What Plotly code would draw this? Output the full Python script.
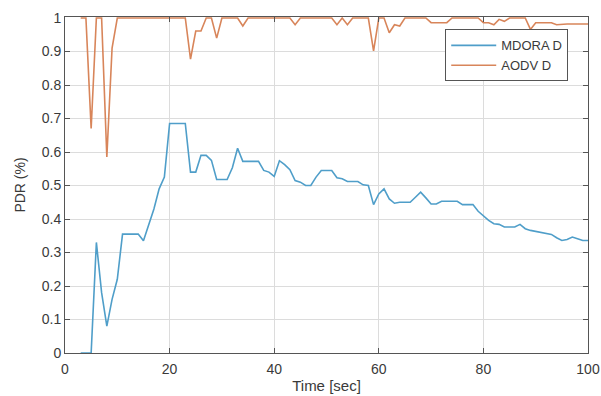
import plotly.graph_objects as go

time = list(range(3, 101))

mdora = [0, 0, 0, 0.33, 0.18, 0.08, 0.16, 0.22, 0.355, 0.355,
         0.355, 0.355, 0.335, 0.38, 0.43, 0.49, 0.525, 0.685, 0.685, 0.685,
         0.685, 0.54, 0.54, 0.59, 0.59, 0.575, 0.518, 0.518, 0.518, 0.553,
         0.611, 0.572, 0.572, 0.572, 0.572, 0.545, 0.54, 0.527, 0.574, 0.562,
         0.547, 0.515, 0.51, 0.5, 0.5, 0.525, 0.545, 0.545, 0.545, 0.523,
         0.52, 0.512, 0.512, 0.512, 0.502, 0.5, 0.443, 0.475, 0.49, 0.46,
         0.447, 0.45, 0.45, 0.45, 0.465, 0.48, 0.463, 0.445, 0.445, 0.453,
         0.453, 0.453, 0.453, 0.443, 0.443, 0.443, 0.423, 0.41, 0.396, 0.386,
         0.384, 0.376, 0.376, 0.376, 0.384, 0.371, 0.366, 0.363, 0.361, 0.356,
         0.354, 0.344, 0.336, 0.339, 0.346, 0.341, 0.336, 0.336]

aodv = [1, 1, 0.67, 1, 1, 0.585, 0.91, 1, 1, 1,
        1, 1, 1, 1, 1, 1, 1, 1, 1, 1,
        1, 0.877, 0.961, 0.961, 1, 1, 0.94, 1, 1, 1,
        1, 0.976, 1, 1, 1, 1, 1, 1, 1, 1,
        1, 0.98, 1, 1, 1, 1, 1, 1, 1, 0.98,
        1, 0.98, 1, 1, 1, 1, 0.902, 1, 1, 0.956,
        0.98, 0.976, 1, 1, 1, 1, 1, 0.986, 0.986, 0.986,
        0.986, 1, 1, 1, 1, 1, 1, 0.986, 0.986, 0.98,
        0.996, 0.99, 1, 1, 1, 1, 0.966, 0.986, 0.986, 0.986,
        0.986, 0.98, 0.982, 0.982, 0.982, 0.982, 0.982, 0.982]

x_ticks = [0, 20, 40, 60, 80, 100]
y_ticks = [0, 0.1, 0.2, 0.3, 0.4, 0.5, 0.6, 0.7, 0.8, 0.9, 1]
y_tick_labels = ["0", "0.1", "0.2", "0.3", "0.4", "0.5", "0.6", "0.7", "0.8", "0.9", "1"]

fig = go.Figure()
fig.add_trace(go.Scatter(x=time, y=mdora, mode="lines", name="MDORA D",
                         line=dict(color="#4f9ec9", width=1.6)))
fig.add_trace(go.Scatter(x=time, y=aodv, mode="lines", name="AODV D",
                         line=dict(color="#d8855a", width=1.6)))

FAM = "Liberation Sans, Arial, sans-serif"
font = dict(family=FAM, size=14, color="#3a3a3a")
axis_common = dict(showline=True, linecolor="#555555", linewidth=1, mirror="ticks",
                   ticks="inside", ticklen=5, tickcolor="#555555",
                   showgrid=True, gridcolor="#dcdcdc", gridwidth=1, zeroline=False,
                   tickfont=font, ticklabeloverflow="allow", automargin=False)

fig.update_layout(
    width=601, height=396,
    margin=dict(l=65, r=13, t=17, b=43),
    paper_bgcolor="white", plot_bgcolor="white",
    font=font,
    showlegend=True,
    legend=dict(x=0.727, y=0.963, xanchor="left", yanchor="top",
                bgcolor="white", bordercolor="#555555", borderwidth=1,
                font=dict(family=FAM, size=13, color="#3a3a3a"),
                tracegroupgap=0, itemwidth=45),
    xaxis=dict(range=[0, 100], tickvals=x_ticks, ticklabelstandoff=3,
               title=dict(text="Time [sec]", standoff=4,
                          font=dict(family=FAM, size=15, color="#3a3a3a")),
               **axis_common),
    yaxis=dict(range=[0, 1.003], tickvals=y_ticks, ticktext=y_tick_labels,
               title=dict(text="PDR (%)", standoff=12,
                          font=dict(family=FAM, size=14, color="#3a3a3a")),
               **axis_common),
)

fig.write_html("out.html")
